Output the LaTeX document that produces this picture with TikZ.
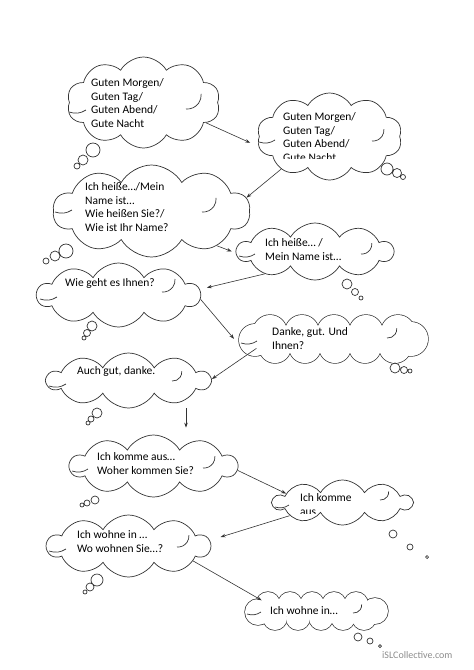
\documentclass[tikz,border=0pt]{standalone}
\usepackage{fontspec}
\setmainfont{Carlito}
\usetikzlibrary{shapes.symbols,arrows.meta}
\tikzset{
  bubble/.style={cloud, draw=black!80, line width=0.7pt, cloud puffs=10, cloud puff arc=120, cloud ignores aspect, inner sep=0pt},
  says/.style={anchor=north west, align=left, inner sep=0pt, font=\fontsize{11.5}{13.5}\selectfont, text=black},
  puff/.style={draw=black!80, line width=0.7pt},
  arr/.style={-{Stealth[length=5pt,width=3.5pt]}, line width=0.6pt, draw=black!80}
}
\begin{document}
\begin{tikzpicture}[x=1pt,y=-1pt]
\useasboundingbox (0,0) rectangle (474,670);

% clouds
\node[bubble, minimum width=153pt, minimum height=91pt] (gruss) at (143.5,102.5) {};
\node[bubble, minimum width=145pt, minimum height=87pt] (grussantw) at (329.5,136.5) {};
\node[bubble, minimum width=197pt, minimum height=92pt] (name) at (151.5,211) {};
\node[bubble, minimum width=156pt, minimum height=57pt] (nameantw) at (315,251.5) {};
\node[bubble, minimum width=163pt, minimum height=64pt] (befinden) at (118.5,295) {};
\node[bubble, draw=none, minimum width=190pt, minimum height=48pt] (befindenantw) at (333,339) {};
\node[bubble, minimum width=163pt, minimum height=55pt] (auchgut) at (128.5,380.5) {};
\node[bubble, minimum width=167pt, minimum height=62pt] (herkunft) at (153.5,466) {};
\node[bubble, minimum width=139pt, minimum height=45pt] (herkunftantw) at (342.5,502.5) {};
\node[bubble, minimum width=163pt, minimum height=62pt] (wohnort) at (128.5,546) {};
\node[bubble, draw=none, minimum width=143pt, minimum height=38pt] (wohnortantw) at (316.5,611) {};

% the two flat clouds, built from puffs
\foreach \cx/\cy/\r in {270/332/17, 302/332/17, 334/332/17, 366/332/17, 398/332/17,
    275/347/16, 305/347/16, 335/347/16, 365/347/16, 395/347/16, 255/340/16, 411/339/17,
    268/604/12, 290/604/12, 312/604/12, 334/604/12, 356/604/12,
    275/618/12, 298/618/12, 321/618/12, 343/618/12, 364/618/12, 258/612/13, 375/611/13}
  \draw[puff, line width=1.4pt] (\cx,\cy) circle[radius=\r pt];
\foreach \cx/\cy/\r in {270/332/17, 302/332/17, 334/332/17, 366/332/17, 398/332/17,
    275/347/16, 305/347/16, 335/347/16, 365/347/16, 395/347/16, 255/340/16, 411/339/17,
    268/604/12, 290/604/12, 312/604/12, 334/604/12, 356/604/12,
    275/618/12, 298/618/12, 321/618/12, 343/618/12, 364/618/12, 258/612/13, 375/611/13}
  \fill[white] (\cx,\cy) circle[radius=\r pt];
\fill[white] (333,340) ellipse[x radius=75pt, y radius=9pt];
\fill[white] (316,611) ellipse[x radius=55pt, y radius=6pt];

% inner folds of the clouds
\draw[puff] (186,109) arc[start angle=-95, end angle=5, radius=14pt];
\draw[puff] (372,141) arc[start angle=-95, end angle=5, radius=11pt];
\draw[puff] (202,212) arc[start angle=-95, end angle=5, radius=13pt];
\draw[puff] (361,254) arc[start angle=-95, end angle=5, radius=10pt];
\draw[puff] (162,292) arc[start angle=-95, end angle=5, radius=12pt];
\draw[puff] (387,338) arc[start angle=-95, end angle=5, radius=9pt];
\draw[puff] (172,381) arc[start angle=-95, end angle=5, radius=9pt];
\draw[puff] (203,468) arc[start angle=-95, end angle=5, radius=11pt];
\draw[puff] (380,500) arc[start angle=-95, end angle=5, radius=8pt];
\draw[puff] (177,547) arc[start angle=-95, end angle=5, radius=11pt];
\draw[puff] (353,613) arc[start angle=-95, end angle=5, radius=8pt];
\draw[puff] (69,112) to[bend right=25] (86,110);
\draw[puff] (259,142) to[bend right=25] (275,140);
\draw[puff] (55,212) to[bend right=25] (72,210);
\draw[puff] (239,256) to[bend right=25] (255,254);
\draw[puff] (40,299) to[bend right=25] (57,297);
\draw[puff] (241,343) to[bend right=25] (257,341);
\draw[puff] (49,386) to[bend right=25] (66,384);
\draw[puff] (72,471) to[bend right=25] (88,469);
\draw[puff] (275,507) to[bend right=25] (289,505);
\draw[puff] (49,551) to[bend right=25] (66,549);
\draw[puff] (247,614) to[bend right=25] (261,612);

% texts
\node[says] (gruss-t) at (91,78.5) {Guten Morgen/\\Guten Tag/\\Guten Abend/\\Gute Nacht};
\begin{scope}
  \clip (270,100) rectangle (400,158.5);
  \node[says] (grussantw-t) at (283,112.5) {Guten Morgen/\\Guten Tag/\\Guten Abend/\\Gute Nacht};
\end{scope}
\node[says] (name-t) at (85,182.5) {Ich heiße…/Mein\\Name ist…\\Wie heißen Sie?/\\Wie ist Ihr Name?};
\node[says] (nameantw-t) at (265,238.5) {Ich heiße… /\\Mein Name ist…};
\node[says] (befinden-t) at (65,278.5) {Wie geht es Ihnen?};
\node[says] (befindenantw-t) at (272,327.5) {Danke, gut. Und\\Ihnen?};
\node[says] (auchgut-t) at (77,366.5) {Auch gut, danke.};
\node[says] (herkunft-t) at (97,452.5) {Ich komme aus…\\Woher kommen Sie?};
\begin{scope}
  \clip (290,485) rectangle (400,513);
  \node[says] (herkunftantw-t) at (300,493.5) {Ich komme\\aus};
\end{scope}
\node[says] (wohnort-t) at (77,530.5) {Ich wohne in …\\Wo wohnen Sie…?};
\node[says] (wohnortantw-t) at (270,606.5) {Ich wohne in…};

% thought bubbles
\draw[puff] (93,150) circle[radius=7pt] (83,160) circle[radius=5pt] (77,166) circle[radius=3pt];
\draw[puff] (387,169) circle[radius=6pt] (397,173) circle[radius=4.5pt] (403,177) circle[radius=2.5pt];
\draw[puff] (66,251) circle[radius=7pt] (55,256) circle[radius=5pt] (46,261) circle[radius=3pt];
\draw[puff] (347,284) circle[radius=5pt] (355,292) circle[radius=3.5pt] (361,298) circle[radius=2pt];
\draw[puff] (92,326) circle[radius=5pt] (87,333) circle[radius=3.5pt] (84,338) circle[radius=2pt];
\draw[puff] (395,368) circle[radius=5pt] (404,370) circle[radius=3.5pt] (410,371) circle[radius=2pt];
\draw[puff] (97,413) circle[radius=5pt] (91,419) circle[radius=3pt] (88,423) circle[radius=2pt];
\draw[puff] (95,500) circle[radius=4pt] (87,503) circle[radius=3pt] (82,505) circle[radius=2pt];
\draw[puff] (393,534) circle[radius=4pt] (410,547) circle[radius=3pt] (427,557) circle[radius=1.5pt];
\draw[puff] (97,580) circle[radius=6pt] (90,587) circle[radius=4pt] (85,592) circle[radius=2pt];
\draw[puff] (358,637) circle[radius=4pt] (370,641) circle[radius=3pt] (380,646) circle[radius=1.5pt];

% arrows
\draw[arr, shorten >=9pt] (gruss.-18) -- (grussantw.188);
\draw[arr] (grussantw.214) -- (name.8);
\draw[arr, shorten >=4pt] (name.-28) -- (nameantw.181);
\draw[arr, shorten >=7pt] (nameantw.204) -- (befinden.4);
\draw[arr] (befinden.-3.5) -- (befindenantw.180.5);
\draw[arr] (befindenantw.187) -- (auchgut.1);
\coordinate (gh) at (186,408);
\draw[arr, shorten >=7pt] (gh) -- (gh |- herkunft.north);
\draw[arr] (herkunft.-3) -- (herkunftantw.171);
\draw[arr, shorten >=11pt] (herkunftantw.194) -- (wohnort.4);
\draw[arr] (wohnort.-13) -- (wohnortantw.169);

\node[anchor=west, inner sep=0pt, font=\fontsize{10}{12}\selectfont, text=black!45] (wasserzeichen) at (382,655) {iSLCollective.com};
\end{tikzpicture}
\end{document}
